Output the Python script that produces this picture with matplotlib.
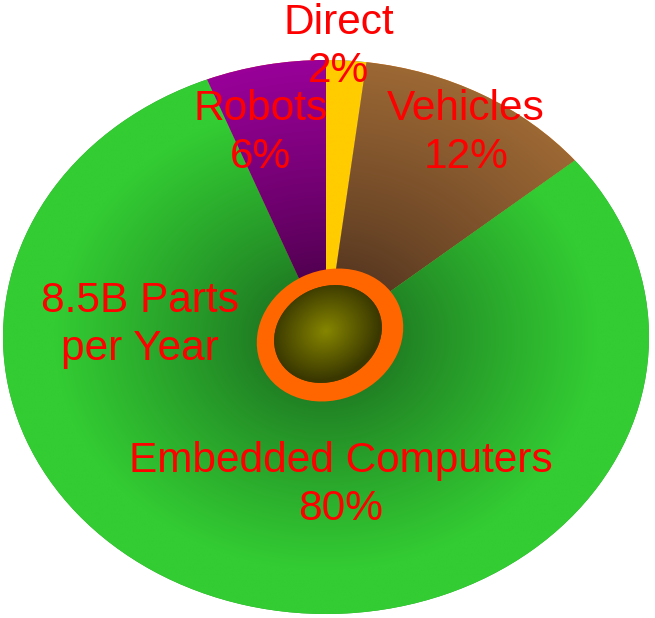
import numpy as np
import matplotlib
matplotlib.use("Agg")
import matplotlib.pyplot as plt
from matplotlib.patches import Ellipse
from matplotlib.transforms import IdentityTransform
from matplotlib.colors import to_rgb

# ---- data ----
categories = ["Direct", "Vehicles", "Embedded Computers", "Robots"]
shares = [2, 12, 80, 6]
center_note = "8.5B Parts\nper Year"

inner_colors = ["#FFCC00", "#553620", "#1C6E20", "#50004F"]
outer_colors = ["#FFCC00", "#9C6834", "#33CC33", "#990099"]
grad_start = [0.0, 0.22, 0.12, 0.22]
grad_len = [1.0, 0.78, 0.72, 0.78]

# label centres in pixels (layout)
label_pos = [(339, 47), (466, 133), (341, 485), (261, 133)]
note_pos = (140, 325)

W, H = 655, 618
fig = plt.figure(figsize=(W / 100, H / 100), dpi=100)
ax = fig.add_axes([0, 0, 1, 1])
cx, cy, rx, ry = 326, 337, 323, 277
xlim = (-cx / rx, (W - cx) / rx)
ylim = (-(H - cy) / ry, cy / ry)

wedges, _ = ax.pie(shares, startangle=90, counterclock=False, radius=1.0,
                   wedgeprops=dict(linewidth=0))

xs = np.linspace(xlim[0], xlim[1], 800)
ys = np.linspace(ylim[0], ylim[1], 800)
X, Y = np.meshgrid(xs, ys)
R = np.hypot(X, Y)
for w, c0, c1, g0, gl in zip(wedges, inner_colors, outer_colors, grad_start, grad_len):
    t = np.clip((R - g0) / gl, 0, 1) ** 0.85
    t = t[..., None]
    img = (1 - t) * np.array(to_rgb(c0)) + t * np.array(to_rgb(c1))
    im = ax.imshow(img, extent=(xs[0], xs[-1], ys[0], ys[-1]), origin="lower",
                   interpolation="bilinear", aspect="auto", zorder=2)
    im.set_clip_path(w)

# orange ring + olive centre (drawn in pixel coordinates)
pix = IdentityTransform()
ring = Ellipse((330, H - 335), 150, 129, angle=25, facecolor="#FF6600",
               edgecolor="none", zorder=5, transform=pix)
ax.add_artist(ring)
inner = Ellipse((328, H - 334), 111, 94, angle=27, facecolor="#3D3D00",
                edgecolor="none", zorder=6, transform=pix)
ax.add_artist(inner)

# gradient for the centre, in pixel space
px = np.arange(W) + 0.5
py = np.arange(H) + 0.5
PX, PY = np.meshgrid(px, py)
ang = np.deg2rad(27)
dx, dy = PX - 326, PY - (H - 331)
u = dx * np.cos(ang) + dy * np.sin(ang)
v = -dx * np.sin(ang) + dy * np.cos(ang)
Rn = np.hypot(u / 55.5, v / 47)
t = np.clip(Rn, 0, 1)[..., None]
img = (1 - t) * np.array(to_rgb("#868600")) + t * np.array(to_rgb("#3A3800"))
fig_im = fig.figimage(img, xo=0, yo=0, origin="lower", zorder=7)
fig_im.set_clip_path(inner)

ax.set_aspect("auto")
ax.set_xlim(*xlim)
ax.set_ylim(*ylim)
ax.axis("off")

font = dict(fontsize=30.5, color="#FF0000", family=["Liberation Sans", "DejaVu Sans"],
            ha="center", va="center", multialignment="center", linespacing=1.28,
            zorder=10)
for cat, s, (lx, ly) in zip(categories, shares, label_pos):
    fig.text(lx / W, 1 - ly / H, f"{cat}\n{s}%", **font)
fig.text(note_pos[0] / W, 1 - note_pos[1] / H, center_note, **font)

fig.savefig("out.png", dpi=100)
